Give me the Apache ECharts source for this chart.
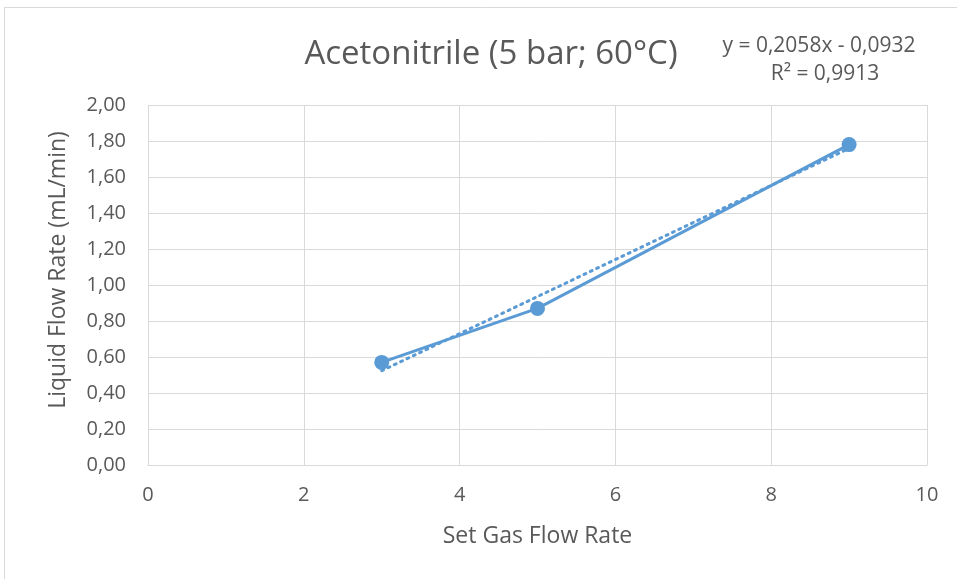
<!DOCTYPE html>
<html><head><meta charset="utf-8">
<script src="https://cdn.jsdelivr.net/npm/echarts@6/dist/echarts.min.js"></script>
<style>html,body{margin:0;padding:0;background:#fff}#c{width:957px;height:579px}</style>
</head><body><div id="c"></div>
<script>
const titleText = 'Acetonitrile (5 bar; 60°C)';
const xName = 'Set Gas Flow Rate';
const yName = 'Liquid Flow Rate (mL/min)';
const xValues = [3, 5, 9];
const yValues = [0.57, 0.87, 1.78];
const trendX = [3, 9];
const trendY = [0.524, 1.759];
const equationLines = ['y = 0,2058x - 0,0932', 'R² = 0,9913'];

const font = '"Open Sans", "Liberation Sans", sans-serif';
const txt = '#595959';
const chart = echarts.init(document.getElementById('c'));
chart.setOption({
  animation: false,
  title: {text: titleText, left: 486, top: 33, textAlign: 'center',
    textStyle: {fontFamily: font, fontSize: 33, fontWeight: 'normal', color: txt}},
  grid: {left: 148, right: 30, top: 105, bottom: 114},
  xAxis: {type: 'value', min: 0, max: 10, interval: 2,
    name: xName, nameLocation: 'middle', nameGap: 60,
    nameTextStyle: {fontFamily: font, fontSize: 23, color: txt},
    axisLine: {show: true, lineStyle: {color: '#D9D9D9'}}, axisTick: {show: false},
    axisLabel: {fontFamily: font, fontSize: 20, color: txt, margin: 20},
    splitLine: {show: true, lineStyle: {color: '#D9D9D9', width: 1}}},
  yAxis: {type: 'value', min: 0, max: 2, interval: 0.2,
    axisLine: {show: false}, axisTick: {show: false},
    axisLabel: {fontFamily: font, fontSize: 20, color: txt, margin: 22,
      formatter: v => v.toFixed(2).replace('.', ',')},
    splitLine: {show: true, lineStyle: {color: '#D9D9D9', width: 1}}},
  graphic: [
    {type: 'rect', shape: {x: 4.5, y: 7.5, width: 1000, height: 1000}, style: {fill: 'none', stroke: '#D9D9D9', lineWidth: 1}, silent: true},
    {type: 'text', x: 58, y: 270, rotation: Math.PI / 2, style: {text: yName, fontFamily: font, fontSize: 23, fill: txt, align: 'center', verticalAlign: 'middle'}},
    {type: 'text', x: 819, y: 46, style: {text: equationLines[0], fontFamily: font, fontSize: 21, fill: txt, align: 'center', verticalAlign: 'middle'}},
    {type: 'text', x: 825, y: 74, style: {text: equationLines[1], fontFamily: font, fontSize: 21, fill: txt, align: 'center', verticalAlign: 'middle'}}
  ],
  series: [
    {type: 'line', data: xValues.map((x, i) => [x, yValues[i]]),
      symbol: 'circle', symbolSize: 15, lineStyle: {color: '#5B9BD5', width: 3},
      itemStyle: {color: '#5B9BD5'}, z: 3},
    {type: 'line', data: trendX.map((x, i) => [x, trendY[i]]),
      symbol: 'none', lineStyle: {color: '#5B9BD5', width: 3, type: [2, 5], cap: 'round'}, z: 2}
  ]
});
</script></body></html>
